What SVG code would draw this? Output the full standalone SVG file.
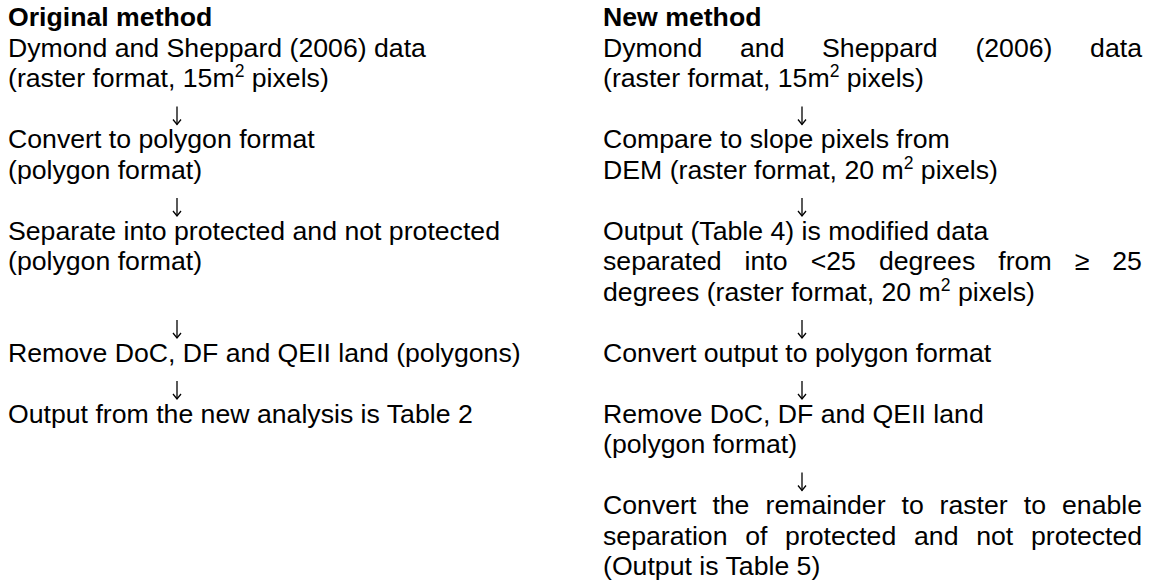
<svg xmlns="http://www.w3.org/2000/svg" width="1155" height="586" viewBox="0 0 1155 586">
  <style>
    text { font-family: "Liberation Sans", Arial, sans-serif; font-size: 26.67px; fill: #000; }
    .head { font-weight: bold; }
    .sup { font-size: 17.5px; }
    .flow { stroke: #000; stroke-width: 1.3; fill: none; }
  </style>
  <defs>
    <!-- open chevron head for the down arrows -->
    <marker id="chev" markerUnits="userSpaceOnUse" viewBox="-1 -5 7 10" refX="5" refY="0" markerWidth="7" markerHeight="10" orient="auto" overflow="visible">
      <path d="M0,-4 L5,0 L0,4" fill="none" stroke="#000" stroke-width="1.3"/>
    </marker>
  </defs>
  <rect width="1155" height="586" fill="#fff"/>

  <!-- Original method column -->
  <g id="orig-title"><text class="head" x="8" y="26">Original method</text></g>
  <g id="orig-source">
    <text x="8" y="56.5">Dymond and Sheppard (2006) data</text>
    <text x="8" y="87">(raster format, 15m<tspan class="sup" dy="-10">2</tspan><tspan dy="10"> pixels)</tspan></text>
  </g>
  <g id="orig-convert">
    <text x="8" y="148">Convert to polygon format</text>
    <text x="8" y="178.5">(polygon format)</text>
  </g>
  <g id="orig-separate">
    <text x="8" y="239.5">Separate into protected and not protected</text>
    <text x="8" y="270">(polygon format)</text>
  </g>
  <g id="orig-remove"><text x="8" y="361.5">Remove DoC, DF and QEII land (polygons)</text></g>
  <g id="orig-output"><text x="8" y="422.5">Output from the new analysis is Table 2</text></g>

  <!-- New method column -->
  <g id="new-title"><text class="head" x="603" y="26">New method</text></g>
  <g id="new-source">
    <text y="56.5"><tspan x="603">Dymond</tspan><tspan x="740">and</tspan><tspan x="822.1">Sheppard</tspan><tspan x="975.4">(2006)</tspan><tspan x="1090.1">data</tspan></text>
    <text x="603" y="87">(raster format, 15m<tspan class="sup" dy="-10">2</tspan><tspan dy="10"> pixels)</tspan></text>
  </g>
  <g id="new-compare">
    <text x="603" y="148">Compare to slope pixels from</text>
    <text x="603" y="178.5">DEM (raster format, 20 m<tspan class="sup" dy="-10">2</tspan><tspan dy="10"> pixels)</tspan></text>
  </g>
  <g id="new-slope-output">
    <text x="603" y="239.5">Output (Table 4) is modified data</text>
    <text y="270"><tspan x="603">separated</tspan><tspan x="744.6">into</tspan><tspan x="810.7">&lt;25</tspan><tspan x="878.9">degrees</tspan><tspan x="998.3">from</tspan><tspan x="1074.7">≥</tspan><tspan x="1112.3">25</tspan></text>
    <text x="603" y="300.5">degrees (raster format, 20 m<tspan class="sup" dy="-10">2</tspan><tspan dy="10"> pixels)</tspan></text>
  </g>
  <g id="new-convert"><text x="603" y="361.5">Convert output to polygon format</text></g>
  <g id="new-remove">
    <text x="603" y="422.5">Remove DoC, DF and QEII land</text>
    <text x="603" y="453">(polygon format)</text>
  </g>
  <g id="new-output">
    <text y="514"><tspan x="603">Convert</tspan><tspan x="712.4">the</tspan><tspan x="765.5">remainder</tspan><tspan x="901.5">to</tspan><tspan x="939.6">raster</tspan><tspan x="1023.8">to</tspan><tspan x="1062">enable</tspan></text>
    <text y="544.5"><tspan x="603">separation</tspan><tspan x="745.2">of</tspan><tspan x="785.1">protected</tspan><tspan x="914">and</tspan><tspan x="976.2">not</tspan><tspan x="1031">protected</tspan></text>
    <text x="603" y="575">(Output is Table 5)</text>
  </g>

  <!-- Flow arrows between steps -->
  <g id="connectors" class="flow">
    <line x1="177" y1="106.5" x2="177" y2="124.5" marker-end="url(#chev)"/>
    <line x1="177" y1="198" x2="177" y2="216" marker-end="url(#chev)"/>
    <line x1="177" y1="320" x2="177" y2="338" marker-end="url(#chev)"/>
    <line x1="177" y1="381" x2="177" y2="399" marker-end="url(#chev)"/>
    <line x1="802" y1="106.5" x2="802" y2="124.5" marker-end="url(#chev)"/>
    <line x1="802" y1="198" x2="802" y2="216" marker-end="url(#chev)"/>
    <line x1="802" y1="320" x2="802" y2="338" marker-end="url(#chev)"/>
    <line x1="802" y1="381" x2="802" y2="399" marker-end="url(#chev)"/>
    <line x1="802" y1="472.5" x2="802" y2="490.5" marker-end="url(#chev)"/>
  </g>
</svg>
